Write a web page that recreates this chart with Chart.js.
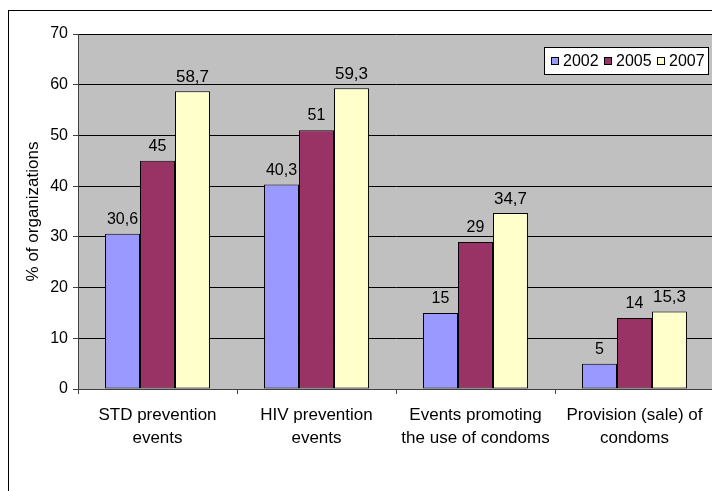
<!DOCTYPE html>
<html>
<head>
<meta charset="utf-8">
<script src="https://cdn.jsdelivr.net/npm/chart.js@4/dist/chart.umd.min.js"></script>
<style>
  html, body { margin: 0; padding: 0; background: #fff; overflow: hidden; }
  #wrap { width: 720px; height: 491px; }
</style>
</head>
<body>
<div id="wrap"><canvas id="c" width="720" height="491"></canvas></div>
<script>
// Prevention activities reported by organizations, by survey year
const categories = [
  ["STD prevention", "events"],
  ["HIV prevention", "events"],
  ["Events promoting", "the use of condoms"],
  ["Provision (sale) of", "condoms"]
];
const seriesNames = ["2002", "2005", "2007"];
const values2002 = [30.6, 40.3, 15, 5];
const values2005 = [45, 51, 29, 14];
const values2007 = [58.7, 59.3, 34.7, 15.3];
const yTicks = [0, 10, 20, 30, 40, 50, 60, 70];
const yTitle = "% of organizations";

const colors = ["#9999FF", "#993366", "#FFFFCC"];
const FONT = '"Liberation Sans", Arial, sans-serif';

// Page background, outer frame and grey plot area
const backdrop = {
  id: 'backdrop',
  beforeDraw(chart) {
    const ctx = chart.ctx, a = chart.chartArea;
    ctx.save();
    ctx.fillStyle = '#ffffff';
    ctx.fillRect(0, 0, chart.width, chart.height);
    ctx.strokeStyle = '#000000';
    ctx.lineWidth = 1;
    ctx.strokeRect(8.5, 10.5, 900, 700);
    ctx.fillStyle = '#C0C0C0';
    ctx.fillRect(a.left, a.top, a.right - a.left, a.bottom - a.top);
    ctx.restore();
  }
};

// Value labels above each bar, decimal comma
const valueLabels = {
  id: 'valueLabels',
  afterDatasetsDraw(chart) {
    const ctx = chart.ctx;
    ctx.save();
    ctx.fillStyle = '#000000';
    ctx.textAlign = 'center';
    ctx.textBaseline = 'alphabetic';
    chart.data.datasets.forEach((ds, di) => {
      const meta = chart.getDatasetMeta(di);
      const big = di === 2;
      ctx.font = (big ? '17px ' : '16px ') + FONT;
      meta.data.forEach((bar, i) => {
        const txt = String(ds.data[i]).replace('.', ',');
        ctx.fillText(txt, bar.x, bar.y - (big ? 9 : 10));
      });
    });
    ctx.restore();
  }
};

// Boxed legend inside the plot area, top right
const boxLegend = {
  id: 'boxLegend',
  afterDraw(chart) {
    const ctx = chart.ctx;
    const x0 = 544, y0 = 47, w = 165, h = 28;
    ctx.save();
    ctx.fillStyle = '#ffffff';
    ctx.fillRect(x0, y0, w, h);
    ctx.strokeStyle = '#000000';
    ctx.lineWidth = 1;
    ctx.strokeRect(x0 + 0.5, y0 + 0.5, w - 1, h - 1);
    ctx.font = '16px ' + FONT;
    ctx.textBaseline = 'middle';
    ctx.textAlign = 'left';
    const cy = y0 + h / 2;
    let x = x0 + 7;
    chart.data.datasets.forEach((ds) => {
      ctx.fillStyle = ds.backgroundColor;
      ctx.fillRect(x, cy - 4, 8, 8);
      ctx.strokeStyle = '#000000';
      ctx.strokeRect(x + 0.5, cy - 3.5, 7, 7);
      ctx.fillStyle = '#000000';
      ctx.fillText(ds.label, x + 12, cy + 1);
      x += 53;
    });
    ctx.restore();
  }
};

new Chart(document.getElementById('c'), {
  type: 'bar',
  data: {
    labels: categories,
    datasets: [values2002, values2005, values2007].map((vals, i) => ({
      label: seriesNames[i],
      data: vals,
      backgroundColor: colors[i],
      borderColor: '#000000',
      borderWidth: 1,
      borderSkipped: false,
      categoryPercentage: 0.66,
      barPercentage: 1.0
    }))
  },
  options: {
    responsive: false,
    animation: false,
    devicePixelRatio: 1,
    layout: { padding: { top: 34, right: 6, bottom: 0, left: 0 } },
    plugins: {
      legend: { display: false },
      tooltip: { enabled: false }
    },
    scales: {
      x: {
        grid: { drawOnChartArea: false, drawTicks: true, tickLength: 5, color: '#404040', offset: true },
        border: { color: '#404040', width: 1 },
        ticks: { color: '#000000', font: { family: FONT, size: 17, lineHeight: 1.35 }, padding: 10, maxRotation: 0, autoSkip: false },
        afterFit(scale) { scale.height = 102; }
      },
      y: {
        min: 0,
        max: 70,
        afterBuildTicks(scale) { scale.ticks = yTicks.map(v => ({ value: v })); },
        grid: { color: '#000000', lineWidth: 1, tickLength: 5, tickColor: '#404040' },
        border: { color: '#404040', width: 1 },
        ticks: { color: '#000000', font: { family: FONT, size: 16 }, padding: 5 },
        title: { display: true, text: yTitle, color: '#000000', font: { family: FONT, size: 17 }, padding: { top: 23, bottom: 0 } },
        afterFit(scale) { scale.width = 78; }
      }
    }
  },
  plugins: [backdrop, valueLabels, boxLegend]
});
</script>
</body>
</html>
